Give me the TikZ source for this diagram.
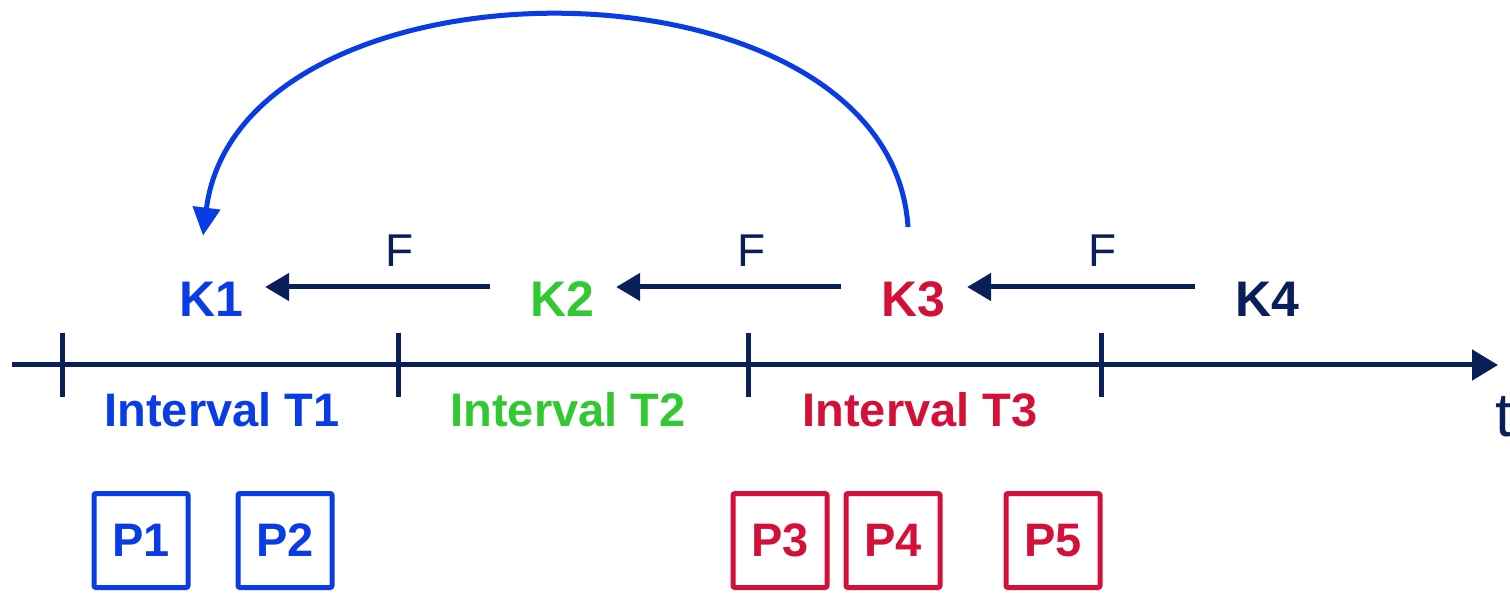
\documentclass[tikz,border=0pt]{standalone}
\usepackage{fontspec}
\setmainfont{Liberation Sans}
\usetikzlibrary{arrows.meta}
\definecolor{cblue}{RGB}{10,60,230}
\definecolor{cgreen}{RGB}{50,200,50}
\definecolor{cred}{RGB}{210,16,56}
\definecolor{cnavy}{RGB}{10,30,90}
\begin{document}
\begin{tikzpicture}[x=1pt,y=-1pt,
  klabel/.style={inner sep=0pt,font=\fontsize{50}{58}\selectfont\bfseries},
  flabel/.style={inner sep=0pt,font=\fontsize{46}{54}\selectfont,text=cnavy},
  ilabel/.style={inner sep=0pt,font=\fontsize{47}{55}\selectfont\bfseries},
  pbox/.style={draw,line width=5pt,rounded corners=2pt,minimum width=94pt,minimum height=94pt,inner sep=0pt,font=\fontsize{47}{55}\selectfont\bfseries},
  farrow/.style={draw=cnavy,line width=5pt,-{Triangle[length=24pt,width=27pt]}},
  axis/.style={draw=cnavy,line width=5pt},
]
\useasboundingbox (0,0) rectangle (1510,593);
% axis
\coordinate (a0) at (12,365);
\coordinate (a1) at (1498,365);
\draw[axis,-{Triangle[length=26pt,width=30pt]}] (a0) -- (a1);
\foreach \x in {62,398,748,1101}{\draw[axis] (\x,333) -- (\x,397);}
\node[anchor=west,inner sep=0pt,font=\fontsize{62}{72}\selectfont,text=cnavy] (t) at (1495,417) {t};
% K labels
\node[klabel,text=cblue] (K1) at (211,299) {K1};
\node[klabel,text=cgreen] (K2) at (562,299) {K2};
\node[klabel,text=cred] (K3) at (913,299) {K3};
\node[klabel,text=cnavy] (K4) at (1267,299) {K4};
% F arrows
\draw[farrow] ([yshift=12pt,xshift=-40pt]K2.west) -- ([yshift=12pt,xshift=22pt]K1.east);
\draw[farrow] ([yshift=12pt,xshift=-40pt]K3.west) -- ([yshift=12pt,xshift=22pt]K2.east);
\draw[farrow] ([yshift=12pt,xshift=-40pt]K4.west) -- ([yshift=12pt,xshift=22pt]K3.east);
\node[flabel] (F1) at (400,251) {F};
\node[flabel] (F2) at (752,251) {F};
\node[flabel] (F3) at (1103,251) {F};
% intervals
\node[ilabel,text=cblue] (I1) at (222,410) {Interval T1};
\node[ilabel,text=cgreen] (I2) at (568,410) {Interval T2};
\node[ilabel,text=cred] (I3) at (920,410) {Interval T3};
% boxes
\node[pbox,draw=cblue,text=cblue] (P1) at (141,540.5) {P1};
\node[pbox,draw=cblue,text=cblue] (P2) at (285,540.5) {P2};
\node[pbox,draw=cred,text=cred] (P3) at (780,540.5) {P3};
\node[pbox,draw=cred,text=cred] (P4) at (893,540.5) {P4};
\node[pbox,draw=cred,text=cred] (P5) at (1053,540.5) {P5};
% feedback curve
\coordinate (cs) at ([xshift=-5pt,yshift=54pt]K3.north);
\coordinate (ce) at ([xshift=-8pt,yshift=46pt]K1.north);
\draw[cblue,line width=5pt,-{Triangle[length=28pt,width=27pt]}] (cs) .. controls (890,-55) and (240,-55) .. (ce);
\end{tikzpicture}
\end{document}
